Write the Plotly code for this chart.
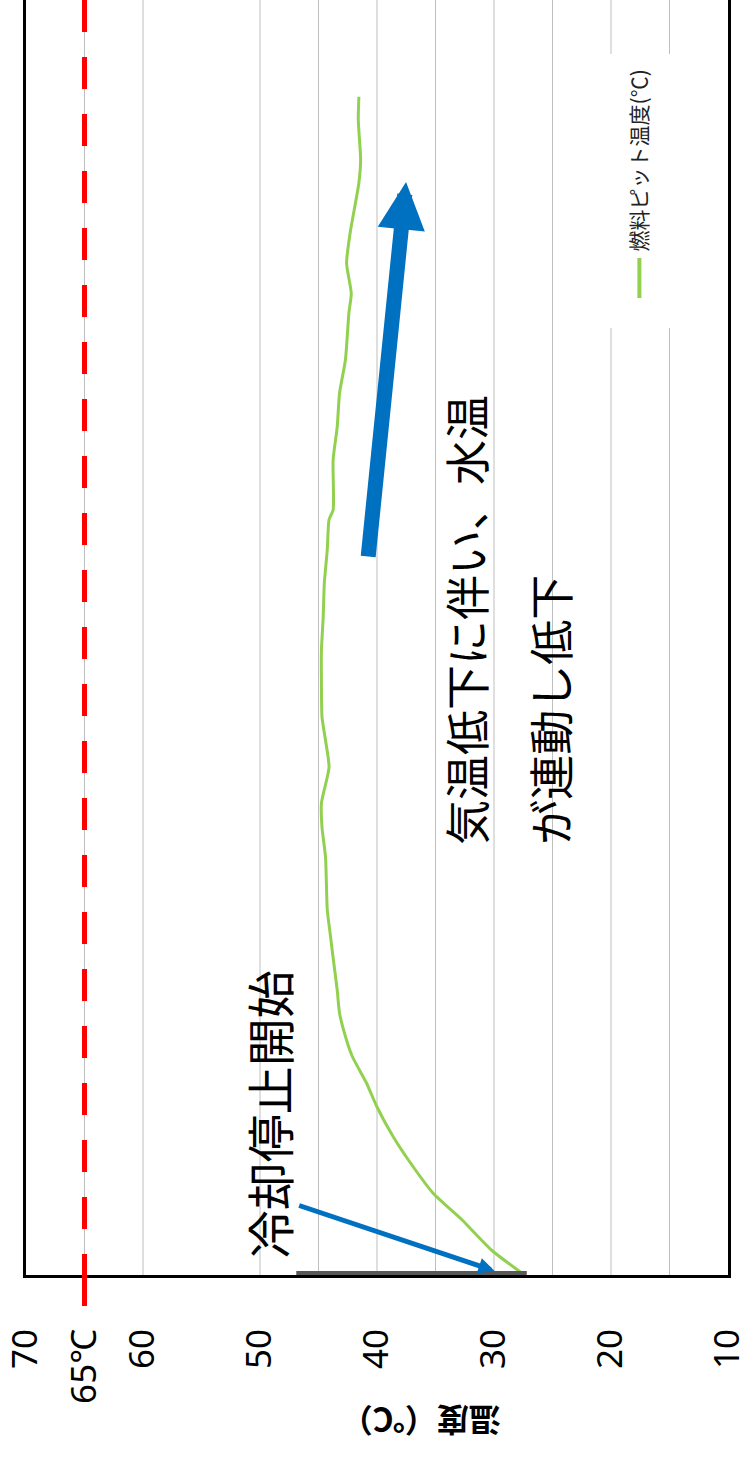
import plotly.graph_objects as go

# ---- data ----
TIME_H = [0, 3.3, 7.3, 10.9, 15.3, 18.4, 22.4, 25.6, 29.1, 31.3, 34.9, 38.0, 42.9, 45.5,
          48.7, 55.7, 59.7, 62.9, 67.7, 71.3, 74.4, 78.9, 83.3, 87.7, 92.3, 96.7, 100.7,
          102.0, 108.7, 113.1, 117.6, 122.0, 128.3, 130.9, 134.9, 138.9, 145.6, 148.7,
          154.0, 157.1]
PIT_TEMP = [27.4, 30.2, 32.7, 35.2, 37.3, 38.6, 40.0, 40.9, 42.1, 42.6, 43.2, 43.4, 43.8, 44.0,
            44.25, 44.4, 44.7, 44.75, 44.1, 44.4, 44.7, 44.75, 44.75, 44.6, 44.5, 44.25, 44.1,
            43.75, 43.75, 43.4, 43.2, 42.7, 42.4, 42.2, 42.6, 42.3, 41.55, 41.4,
            41.6, 41.55]
SERIES_NAME = "燃料ピット温度(℃)"
TICK_VALS = [70, 65, 60, 50, 40, 30, 20, 10]
TICK_TEXT = ["70", "65℃", "60", "50", "40", "30", "20", "10"]
GRID_VALS = [65, 60, 50, 45, 40, 35, 30, 25, 20, 15]
LIMIT_TEMP = 65
GRAY_SEG = [46.9, 27.2]

W, H = 749, 1458
ML, MR, MT, MB = 24, 12, 0, 183
PW, PH = W - ML - MR, H - MT - MB


def px(x):
    return (x - ML) / PW


def py(y):
    return (MT + PH - y) / PH


GREEN = "#92D050"
BLUE = "#0070C0"
FONT = "Noto Sans CJK JP"

fig = go.Figure()
fig.add_trace(go.Scatter(x=PIT_TEMP, y=TIME_H, mode="lines", name=SERIES_NAME,
                         line=dict(color=GREEN, width=3, shape="spline", smoothing=0.6),
                         showlegend=False))

shapes = []
for g in GRID_VALS:
    shapes.append(dict(type="line", xref="x", yref="paper", x0=g, x1=g, y0=0, y1=1,
                       line=dict(color="#BFBFBF", width=1), layer="below"))
# legend box background
shapes.append(dict(type="rect", xref="paper", yref="paper", x0=px(598), x1=px(734),
                   y0=py(328), y1=py(54), fillcolor="white", line=dict(width=0), layer="below"))
# legend sample line
shapes.append(dict(type="line", xref="paper", yref="paper", x0=px(647), x1=px(647),
                   y0=py(298), y1=py(258), line=dict(color=GREEN, width=4)))
# 65C limit line (dashed) and its tick
shapes.append(dict(type="line", xref="x", yref="paper", x0=LIMIT_TEMP, x1=LIMIT_TEMP, y0=1, y1=0,
                   line=dict(color="#FF0000", width=5, dash="32px,25px")))
shapes.append(dict(type="line", xref="x", yref="paper", x0=LIMIT_TEMP, x1=LIMIT_TEMP, y0=0,
                   y1=py(1306), line=dict(color="#FF0000", width=5)))
# gray segment on bottom axis
shapes.append(dict(type="line", xref="x", yref="paper", x0=GRAY_SEG[0], x1=GRAY_SEG[1],
                   y0=py(1273), y1=py(1273), line=dict(color="#595959", width=4), layer="above"))

annotations = [
    dict(text="冷却停止開始", xref="paper", yref="paper", x=px(270), y=py(1114),
         xanchor="center", yanchor="middle",
         showarrow=False, textangle=-90, font=dict(family=FONT, size=48, color="black")),
    dict(text="気温低下に伴い、水温", xref="paper", yref="paper", x=px(470), y=py(847),
         xanchor="center", yanchor="bottom", showarrow=False, textangle=-90,
         font=dict(family=FONT, size=45, color="black")),
    dict(text="が連動し低下", xref="paper", yref="paper", x=px(555), y=py(847),
         xanchor="center", yanchor="bottom", showarrow=False, textangle=-90,
         font=dict(family=FONT, size=45, color="black")),
    dict(text=SERIES_NAME, xref="paper", yref="paper", x=px(646), y=py(253),
         xanchor="center", yanchor="bottom", showarrow=False, textangle=-90,
         font=dict(family=FONT, size=21, color="#222222")),
    dict(text="<b>温度（℃）</b>", xref="paper", yref="paper", x=px(425), y=py(1422),
         xanchor="center", yanchor="middle",
         showarrow=False, textangle=180, font=dict(family=FONT, size=32, color="black")),
    # small arrow
    dict(text="", xref="paper", yref="paper", x=px(500), y=py(1271), ax=-197, ay=-66,
         showarrow=True, arrowhead=2, arrowwidth=5, arrowsize=0.65, arrowcolor=BLUE),
    # big arrow
    dict(text="", xref="paper", yref="paper", x=px(410), y=py(182), ax=-38, ay=376,
         showarrow=True, arrowhead=2, arrowwidth=15, arrowsize=0.63, arrowcolor=BLUE),
]

fig.update_layout(
    width=W, height=H, margin=dict(l=ML, r=MR, t=MT, b=MB),
    paper_bgcolor="white", plot_bgcolor="white",
    shapes=shapes, annotations=annotations, showlegend=False,
    xaxis=dict(range=[70, 10], tickvals=TICK_VALS, ticktext=TICK_TEXT, tickangle=-90,
               showgrid=False, zeroline=False, showline=True, linecolor="black", linewidth=3,
               ticks="", ticklabelstandoff=37, ticklabeloverflow="allow",
               tickfont=dict(family="Noto Sans, " + FONT, size=35, color="black")),
    yaxis=dict(range=[0, 170], showticklabels=False, showgrid=False, zeroline=False,
               showline=True, mirror=True, linecolor="black", linewidth=3, ticks=""),
)

fig.write_html("out.html")
